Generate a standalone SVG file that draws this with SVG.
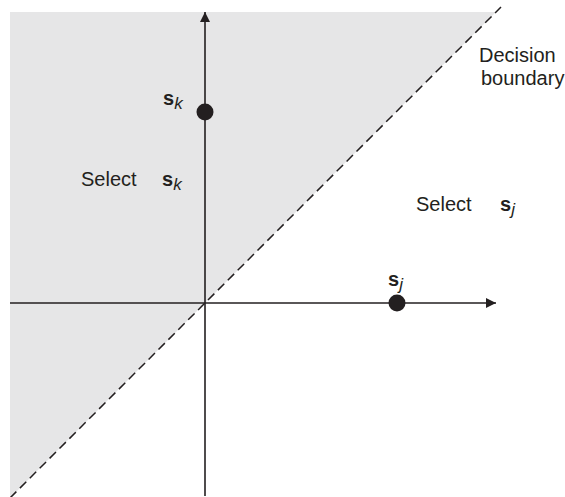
<svg xmlns="http://www.w3.org/2000/svg" width="565" height="497" viewBox="0 0 565 497">
<style>
text{font-family:"Liberation Sans",Arial,sans-serif;font-size:20px;fill:#231f20}
.b{font-weight:bold}
.i{font-style:italic;font-size:17px}
.ax{stroke:#231f20;stroke-width:1.6;fill:none}
.dot{fill:#231f20}
</style>
<defs>
<marker id="arr" viewBox="0 0 10 10" refX="10" refY="5" markerWidth="10" markerHeight="10" markerUnits="userSpaceOnUse" orient="auto">
<path d="M0,0 L10,5 L0,10 Z" fill="#231f20"/>
</marker>
</defs>
<rect width="565" height="497" fill="#fff"/>
<polygon id="region" points="10,12 496,12 10,498" fill="#e6e6e7"/>
<g id="connectors">
<line class="ax" x1="10" y1="303" x2="496" y2="303" marker-end="url(#arr)"/>
<line class="ax" x1="205" y1="496" x2="205" y2="12" marker-end="url(#arr)"/>
<line x1="10" y1="498" x2="501" y2="7" stroke="#231f20" stroke-width="1.5" stroke-dasharray="9,5"/>
</g>
<g id="sk">
<circle class="dot" cx="205" cy="112" r="8.5"/>
<text x="163" y="105"><tspan class="b">s</tspan><tspan class="i" dy="4">k</tspan></text>
</g>
<g id="sj">
<circle class="dot" cx="397" cy="303" r="8.5"/>
<text x="388" y="286"><tspan class="b">s</tspan><tspan class="i" dy="4">j</tspan></text>
</g>
<g id="select-k">
<text x="81" y="186">Select</text>
<text x="162" y="186"><tspan class="b">s</tspan><tspan class="i" dy="4">k</tspan></text>
</g>
<g id="select-j">
<text x="416" y="211">Select</text>
<text x="500" y="211"><tspan class="b">s</tspan><tspan class="i" dy="4">j</tspan></text>
</g>
<g id="boundary-label">
<text x="479" y="62">Decision</text>
<text x="481" y="85">boundary</text>
</g>
</svg>
